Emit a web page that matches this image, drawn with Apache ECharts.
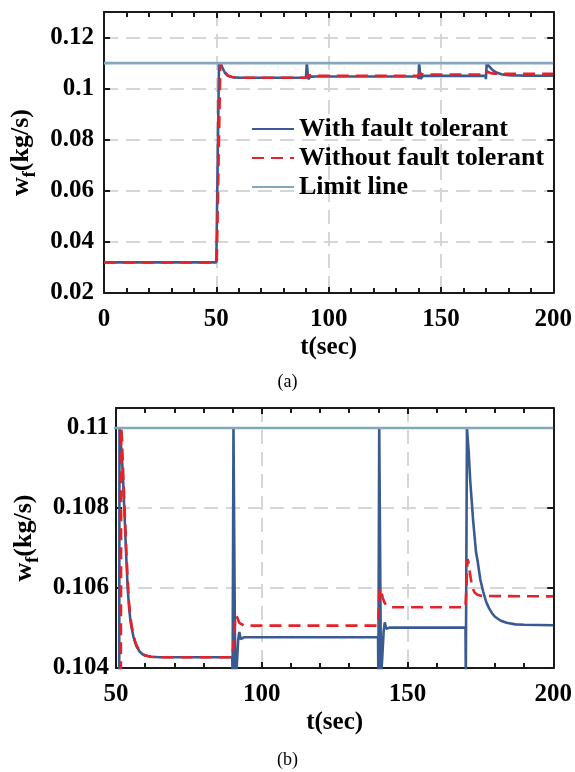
<!DOCTYPE html>
<html>
<head>
<meta charset="utf-8">
<script src="https://cdn.jsdelivr.net/npm/echarts@6/dist/echarts.min.js"></script>
<style>html,body{margin:0;padding:0;background:#fff;}#c{width:575px;height:772px;}</style>
</head>
<body>
<div id="c"></div>
<script>
// ---- data ----
const seriesNames = ['With fault tolerant', 'Without fault tolerant', 'Limit line'];

const ftT = [0, 50.0, 51.2, 51.6, 52.0, 52.5, 53.0, 53.5, 54.0, 54.5, 55.0, 55.5, 56.0, 56.5, 57.0, 58.0, 59.0, 60.0, 62.0, 65.0,
  89.9, 90.0, 90.3, 90.5, 90.9, 91.4, 91.9, 92.3, 92.8, 93.3, 94.0,
  139.9, 140.0, 140.3, 140.5, 140.9, 141.3, 141.8, 142.2, 142.7, 143.2, 144.0,
  169.9, 170.0, 170.4, 170.7, 171.0, 171.5, 172.0, 172.5, 173.0, 173.5, 174.0, 175.0, 176.0, 177.0, 178.0, 179.0, 180.0, 182.0, 184.0, 187.0, 190.0, 200.0];
const ftV = [0.032, 0.032, 0.1100, 0.1100, 0.1093, 0.1086, 0.1077, 0.1068, 0.1060, 0.1055, 0.10515, 0.10495, 0.10478, 0.10465, 0.10455, 0.10442, 0.10435, 0.10431, 0.10428, 0.10427,
  0.10427, 0.1037, 0.1100, 0.1100, 0.1037, 0.1040, 0.10470, 0.10490, 0.10472, 0.10474, 0.10477,
  0.10477, 0.1037, 0.1100, 0.1100, 0.1038, 0.10420, 0.10490, 0.10514, 0.10498, 0.10496, 0.10501,
  0.10501, 0.1037, 0.1100, 0.1100, 0.1094, 0.1087, 0.1082, 0.1077, 0.1073, 0.1069, 0.1067, 0.1062, 0.1059, 0.10565, 0.10549, 0.10537, 0.10528, 0.10518, 0.10513, 0.10509, 0.10508, 0.10507];

const nfT = [0, 50.2, 51.8, 52.0, 52.5, 53.0, 53.5, 54.0, 54.5, 55.0, 55.5, 56.0, 56.5, 57.0, 58.0, 59.0, 60.0, 62.0, 65.0,
  89.9, 90.4, 90.9, 91.3, 91.8, 92.4, 93.0, 94.0,
  139.9, 140.3, 140.6, 141.0, 141.5, 142.0, 142.6, 143.5, 145.0,
  169.9, 170.3, 170.6, 171.0, 171.5, 172.0, 172.5, 173.0, 174.0, 175.5, 200.0];
const nfV = [0.032, 0.032, 0.1100, 0.1098, 0.1088, 0.1079, 0.1070, 0.1062, 0.1056, 0.10525, 0.10500, 0.10482, 0.10468, 0.10457, 0.10443, 0.10436, 0.10431, 0.10428, 0.10427,
  0.10427, 0.10470, 0.10520, 0.10532, 0.10522, 0.10512, 0.10508, 0.10506,
  0.10506, 0.10580, 0.10600, 0.10591, 0.10576, 0.10565, 0.10558, 0.10553, 0.10552,
  0.10552, 0.10620, 0.10672, 0.10662, 0.10633, 0.10610, 0.10597, 0.10589, 0.10583, 0.10580, 0.10579];

const limT = [0, 200];
const limV = [0.11, 0.11];

const xTicksA = [0, 50, 100, 150, 200];
const yTicksA = ['0.02', '0.04', '0.06', '0.08', '0.1', '0.12'];
const xTicksB = [50, 100, 150, 200];
const yTicksB = ['0.104', '0.106', '0.108', '0.11'];

// ---- chart ----
const zip = (t, v) => t.map((x, i) => [x, v[i]]);
const FONT = "'Liberation Serif', 'Times New Roman', serif";
const BLUE = '#3A5A92', RED = '#E3232A', LIM = '#82A8BE';

function xAxes(grid, min, max, nameGap) {
  const base = {
    type: 'value', gridIndex: grid, min: min, max: max, interval: 50,
    axisLine: { show: true, onZero: false, lineStyle: { color: '#1a1a1a', width: 2 } },
    axisTick: { show: true, inside: true, length: 6, lineStyle: { color: '#1a1a1a', width: 2 } },
    minorTick: { show: true, splitNumber: 5, length: 5, lineStyle: { color: '#1a1a1a', width: 2 } },
  };
  return [
    Object.assign({}, base, {
      position: 'bottom',
      name: 't(sec)', nameLocation: 'middle', nameGap: nameGap,
      nameTextStyle: { fontFamily: FONT, fontWeight: 'bold', fontSize: 25, color: '#000' },
      axisLabel: { show: true, margin: 14, fontFamily: FONT, fontWeight: 'bold', fontSize: 25, color: '#000' },
      splitLine: { show: true, lineStyle: { color: '#d6d6d6', width: 2, type: [14, 8] } }
    }),
    Object.assign({}, base, {
      position: 'top', axisLabel: { show: false }, splitLine: { show: false }
    })
  ];
}

function yAxes(grid, min, max, interval, digits, nameGap, labelMargin) {
  const base = {
    type: 'value', gridIndex: grid, min: min, max: max, interval: interval,
    axisLine: { show: true, onZero: false, lineStyle: { color: '#1a1a1a', width: 2 } },
    axisTick: { show: true, inside: true, length: 6, lineStyle: { color: '#1a1a1a', width: 2 } },
  };
  return [
    Object.assign({}, base, {
      position: 'left',
      name: '{w|w}{s|f}{w|(kg/s)}', nameLocation: 'middle', nameGap: nameGap,
      nameTextStyle: {
        fontFamily: FONT, fontWeight: 'bold', fontSize: 25, color: '#000',
        rich: {
          w: { fontFamily: FONT, fontWeight: 'bold', fontSize: 26, color: '#000' },
          s: { fontFamily: FONT, fontWeight: 'bold', fontSize: 18, color: '#000', padding: [18, 0, 0, 0] }
        }
      },
      axisLabel: {
        show: true, showMaxLabel: false, margin: labelMargin, fontFamily: FONT, fontWeight: 'bold', fontSize: 25, color: '#000',
        formatter: v => String(+(+v).toFixed(digits))
      },
      splitLine: { show: true, lineStyle: { color: '#d6d6d6', width: 2, type: [14, 8] } }
    }),
    Object.assign({}, base, {
      position: 'right', axisLabel: { show: false }, splitLine: { show: false }
    })
  ];
}

function seriesFor(xi, yi) {
  return [
    { name: seriesNames[0], type: 'line', xAxisIndex: xi, yAxisIndex: yi, data: zip(ftT, ftV), showSymbol: false, symbol: 'none',
      lineStyle: { color: BLUE, width: 2.6 }, itemStyle: { color: BLUE }, z: 3, clip: true },
    { name: seriesNames[1], type: 'line', xAxisIndex: xi, yAxisIndex: yi, data: zip(nfT, nfV), showSymbol: false, symbol: 'none',
      lineStyle: { color: RED, width: 2.6, type: [12, 7] }, itemStyle: { color: RED }, z: 4, clip: true },
    { name: seriesNames[2], type: 'line', xAxisIndex: xi, yAxisIndex: yi, data: zip(limT, limV), showSymbol: false, symbol: 'none',
      lineStyle: { color: LIM, width: 2.6 }, itemStyle: { color: LIM }, z: 5, clip: true }
  ];
}

const chart = echarts.init(document.getElementById('c'), null, { renderer: 'canvas' });
chart.setOption({
  animation: false,
  backgroundColor: '#fff',
  grid: [
    { left: 104, top: 12, width: 452, height: 281, containLabel: false },
    { left: 116, top: 408, width: 440, height: 260, containLabel: false }
  ],
  xAxis: [].concat(xAxes(0, xTicksA[0], xTicksA[xTicksA.length - 1], 42), xAxes(1, xTicksB[0], xTicksB[xTicksB.length - 1], 42)),
  yAxis: [].concat(yAxes(0, +yTicksA[0], 0.13, 0.02, 2, 60, 10), yAxes(1, +yTicksB[0], 0.1105, 0.002, 3, 72, 7)),
  legend: {
    show: true, orient: 'vertical', left: 251, top: 116, padding: 0, itemWidth: 42, itemHeight: 14, itemGap: 3,
    data: seriesNames, selectedMode: false,
    itemStyle: { opacity: 0 },
    textStyle: { fontFamily: FONT, fontWeight: 'bold', fontSize: 26, color: '#000' }
  },
  series: [].concat(seriesFor(0, 0), seriesFor(2, 2)),
  graphic: [
    { type: 'text', left: 'center', top: 373, style: { text: '(a)', font: "18px 'Liberation Serif', serif", fill: '#000' } },
    { type: 'text', left: 'center', top: 751, style: { text: '(b)', font: "18px 'Liberation Serif', serif", fill: '#000' } }
  ]
});
</script>
</body>
</html>
